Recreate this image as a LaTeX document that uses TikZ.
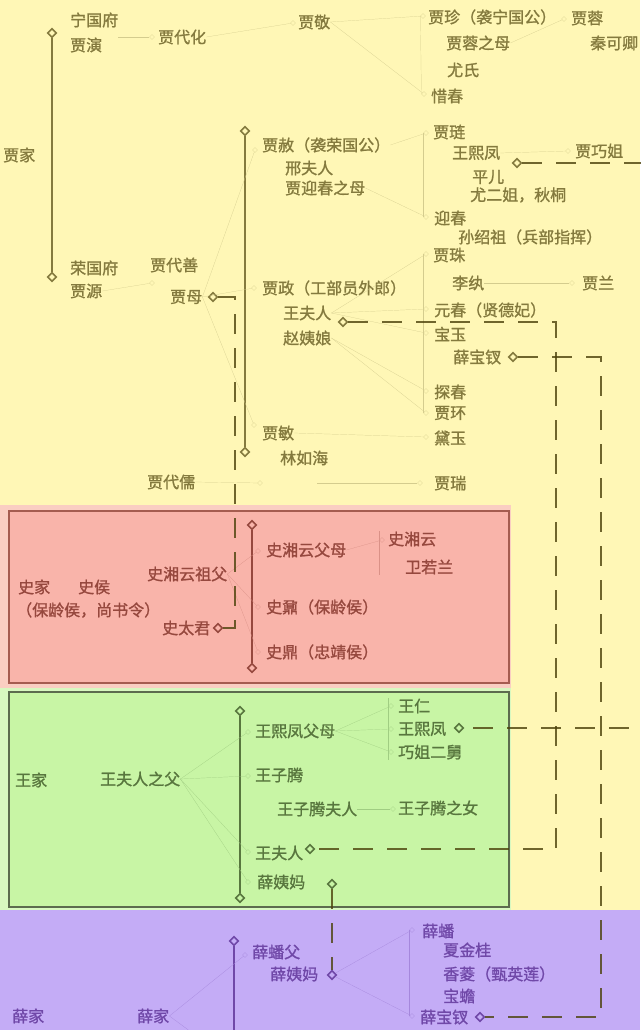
\documentclass[tikz,border=0pt]{standalone}
\usepackage{fontspec}
\newfontfamily\cjk{Noto Sans CJK SC}[FakeBold=1.2]
\usetikzlibrary{shapes.geometric}

\definecolor{jiabg}{RGB}{255,247,182}
\definecolor{jiac}{RGB}{132,122,62}
\definecolor{jiatw}{RGB}{212,204,142}
\definecolor{shiband}{RGB}{250,206,194}
\definecolor{shibg}{RGB}{249,180,170}
\definecolor{shiedge}{RGB}{165,92,80}
\definecolor{shic}{RGB}{150,72,62}
\definecolor{shitw}{RGB}{218,145,135}
\definecolor{wangband}{RGB}{216,248,192}
\definecolor{wangbg}{RGB}{200,245,165}
\definecolor{wangedge}{RGB}{92,108,78}
\definecolor{wangc}{RGB}{88,118,62}
\definecolor{wangtw}{RGB}{160,205,130}
\definecolor{xuebg}{RGB}{196,172,246}
\definecolor{xuec}{RGB}{112,72,168}
\definecolor{xuetw}{RGB}{165,135,220}
\definecolor{wedc}{RGB}{75,65,10}
\colorlet{twc}{jiatw}

\begin{document}
\begin{tikzpicture}[x=1pt,y=-1pt,
  lbl/.style={anchor=west,inner sep=0pt,font=\cjk\fontsize{16}{18}\selectfont},
  bar/.style={line width=2.4pt},
  knot/.style={diamond,draw,line width=1.6pt,minimum size=9pt,inner sep=0pt},
  tip/.style={diamond,draw=twc,very thin,minimum size=5pt,inner sep=0pt},
  twig/.style={draw=twc,very thin},
  wed/.style={draw=wedc,draw opacity=0.8,line width=1.8pt,dash pattern=on 20pt off 14pt}]
\useasboundingbox (0,0) rectangle (640,1030);
% backgrounds
\fill[jiabg] (0,0) rectangle (640,1030);
\fill[shiband] (0,505) rectangle (511,688);
\draw[shiedge,line width=2pt,fill=shibg] (9,511) rectangle (509,683);
\fill[wangband] (0,688) rectangle (511,910);
\draw[wangedge,line width=2pt,fill=wangbg] (9,692) rectangle (509,907);
\fill[xuebg] (0,910) rectangle (640,1030);

% Jia family
\begin{scope}[color=jiac]
\colorlet{twc}{jiatw}
\node[lbl] (jiajia) at (3,155) {贾家};
\node[knot] (jtop) at (52,33) {};
\node[knot] (jbot) at (52,277) {};
\draw[bar] (jtop) -- (jbot);
% Ningguo
\node[lbl] (ngf) at (70,20) {宁国府};
\node[lbl] (jyan) at (70,45) {贾演};
\node[tip] (jdhm) at (152,37) {};
\node[lbl] (jdh) at (158,37) {贾代化};
\node[tip] (jjingm) at (293,23) {};
\node[lbl] (jjing) at (298,22) {贾敬};
\node[tip] (jzhenm) at (423,16) {};
\node[lbl] (jzhen) at (428,17) {贾珍（袭宁国公）};
\node[lbl] (jrm) at (446,43) {贾蓉之母};
\node[lbl] (yshi) at (447,70) {尤氏};
\node[tip] (xchunm) at (424,94) {};
\node[lbl] (xchun) at (431,96) {惜春};
\node[tip] (jrongm) at (564,19) {};
\node[lbl] (jrong) at (571,18) {贾蓉};
\node[lbl] (qkq) at (590,43) {秦可卿};
\draw[twig] (ngf.east |- jdhm) -- (jdhm);
\draw[twig] (jdh.east) -- (jjingm);
\draw[twig] (jjing.east) -- (jzhenm);
\draw[twig] (jjing.east) -- (xchunm);
\draw[twig] (jzhenm.west) -- (xchunm.west);
\draw[twig] (jrm.east) -- (jrongm);
% Rongguo
\node[lbl] (rgf) at (70,268) {荣国府};
\node[lbl] (jyuan) at (70,291) {贾源};
\node[tip] (jdsm) at (152,283) {};
\node[lbl] (jds) at (150,265) {贾代善};
\node[lbl] (jmu) at (170,297) {贾母};
\node[knot] (jmuk) at (213,297) {};
\draw[twig] (jyuan.east) -- (jdsm);
\node[knot] (rtop) at (245,131) {};
\node[knot] (rbot) at (245,452) {};
\draw[bar] (rtop) -- (rbot);
\node[tip] (jshem) at (255,150) {};
\node[lbl] (jshe) at (262,145) {贾赦（袭荣国公）};
\node[lbl] (xfr) at (285,168) {邢夫人};
\node[lbl] (jycm) at (285,188) {贾迎春之母};
\node[tip] (jzhengm) at (254,288) {};
\node[lbl] (jzheng) at (262,288) {贾政（工部员外郎）};
\node[lbl] (wfr) at (283,313) {王夫人};
\node[knot] (wfrk) at (343,322) {};
\node[lbl] (zyn) at (283,338) {赵姨娘};
\node[tip] (jminm) at (254,425) {};
\node[lbl] (jmin) at (262,433) {贾敏};
\node[lbl] (lrh) at (280,458) {林如海};
\draw[twig] (jmu.east) -- (jshem);
\draw[twig] (jmu.east) -- (jzhengm);
\draw[twig] (jmu.east) -- (jminm);
% children of Jia She
\node[tip] (jlianm) at (426,133) {};
\node[lbl] (jlian) at (433,132) {贾琏};
\node[lbl] (wxf) at (452,153) {王熙凤};
\node[knot] (wxfk) at (517,163) {};
\node[tip] (jqjm) at (568,151) {};
\node[lbl] (jqj) at (575,151) {贾巧姐};
\node[lbl] (pinger) at (472,177) {平儿};
\node[lbl] (yej) at (470,195) {尤二姐，秋桐};
\node[tip] (ychunm) at (426,217) {};
\node[lbl] (ychun) at (434,218) {迎春};
\node[lbl] (ssz) at (458,237) {孙绍祖（兵部指挥）};
\draw[twig] (jshe.east) -- (jlianm);
\draw[twig] (jycm.east) -- (ychunm);
\draw[twig] (jlianm.west) -- (ychunm.west);
\draw[twig] (wxf.east) -- (jqjm);
% children of Jia Zheng
\node[tip] (jzhum) at (426,254) {};
\node[lbl] (jzhu) at (433,255) {贾珠};
\node[lbl] (lwan) at (452,283) {李纨};
\node[tip] (jlanm) at (572,283) {};
\node[lbl] (jlan) at (582,283) {贾兰};
\node[tip] (ychm) at (426,309) {};
\node[lbl] (ych) at (434,310) {元春（贤德妃）};
\node[tip] (bym) at (426,333) {};
\node[lbl] (byu) at (434,334) {宝玉};
\node[lbl] (bchai) at (453,357) {薛宝钗};
\node[knot] (bchaik) at (513,357) {};
\node[tip] (tchm) at (426,391) {};
\node[lbl] (tch) at (434,392) {探春};
\node[tip] (jhm) at (426,413) {};
\node[lbl] (jhuan) at (434,413) {贾环};
\draw[twig] (wfr.east) -- (jzhum);
\draw[twig] (wfr.east) -- (ychm);
\draw[twig] (wfr.east) -- (bym);
\draw[twig] (zyn.east) -- (tchm);
\draw[twig] (zyn.east) -- (jhm);
\draw[twig] (jzhum.west) -- (jhm.west);
\draw[twig] (lwan.east) -- (jlanm);
\node[tip] (dyum) at (426,437) {};
\node[lbl] (dyu) at (434,438) {黛玉};
\draw[twig] (jmin.east) -- (dyum);
% Jia Dairu
\node[lbl] (jdr) at (147,482) {贾代儒};
\node[tip] (jdrm) at (260,483) {};
\coordinate (jdrc) at (317,483);
\node[tip] (jruim) at (420,483) {};
\node[lbl] (jrui) at (434,483) {贾瑞};
\draw[twig] (jdr.east) -- (jdrm);
\draw[twig] (jdrc) -- (jruim);
\end{scope}

% Shi family
\begin{scope}[color=shic]
\colorlet{twc}{shitw}
\node[lbl] (shijia) at (18,587) {史家};
\node[lbl] (shihou) at (78,587) {史侯};
\node[lbl] (shihou2) at (16,610) {（保龄侯，尚书令）};
\node[lbl] (sxyzf) at (147,574) {史湘云祖父};
\node[lbl] (stj) at (162,628) {史太君};
\node[knot] (stjk) at (218,628) {};
\node[knot] (stop) at (252,525) {};
\node[knot] (sbot) at (252,668) {};
\draw[bar] (stop) -- (sbot);
\node[tip] (sxyfmm) at (258,551) {};
\node[lbl] (sxyfm) at (266,550) {史湘云父母};
\node[tip] (snaim) at (258,607) {};
\node[lbl] (snai) at (266,607) {史鼐（保龄侯）};
\node[tip] (sdingm) at (258,652) {};
\node[lbl] (sding) at (266,652) {史鼎（忠靖侯）};
\node[tip] (sxym) at (382,540) {};
\node[lbl] (sxy) at (388,539) {史湘云};
\node[lbl] (wrl) at (405,567) {卫若兰};
\draw[twig] (sxyzf.east) -- (sxyfmm);
\draw[twig] (sxyzf.east) -- (snaim);
\draw[twig] (sxyzf.east) -- (sdingm);
\draw[twig] (sxyfm.east) -- (sxym);
\draw[twig] (sxym.west |- sxy.north) -- (sxym.west |- wrl.south);
\end{scope}

% Wang family
\begin{scope}[color=wangc]
\colorlet{twc}{wangtw}
\node[lbl] (wangjia) at (15,780) {王家};
\node[lbl] (wfrzf) at (100,779) {王夫人之父};
\node[knot] (wtop) at (240,711) {};
\node[knot] (wbot) at (240,898) {};
\draw[bar] (wtop) -- (wbot);
\node[tip] (wxffmm) at (248,732) {};
\node[lbl] (wxffm) at (255,731) {王熙凤父母};
\node[tip] (wztm) at (248,776) {};
\node[lbl] (wzt) at (255,775) {王子腾};
\node[lbl] (wztfr) at (277,809) {王子腾夫人};
\node[tip] (wztnm) at (393,809) {};
\node[lbl] (wztn) at (398,808) {王子腾之女};
\node[tip] (wfr2m) at (248,852) {};
\node[lbl] (wfr2) at (255,853) {王夫人};
\node[knot] (wfr2k) at (310,849) {};
\node[tip] (xymm) at (248,882) {};
\node[lbl] (xym) at (257,882) {薛姨妈};
\node[knot] (xymk) at (332,884) {};
\node[tip] (wrenm) at (391,706) {};
\node[lbl] (wren) at (398,706) {王仁};
\node[tip] (wxf2m) at (391,729) {};
\node[lbl] (wxf2) at (398,729) {王熙凤};
\node[knot] (wxf2k) at (459,728) {};
\node[tip] (qjejm) at (391,752) {};
\node[lbl] (qjej) at (398,752) {巧姐二舅};
\draw[twig] (wfrzf.east) -- (wxffmm);
\draw[twig] (wfrzf.east) -- (wztm);
\draw[twig] (wfrzf.east) -- (wfr2m);
\draw[twig] (wfrzf.east) -- (xymm);
\draw[twig] (wxffm.east) -- (wrenm);
\draw[twig] (wxffm.east) -- (wxf2m);
\draw[twig] (wxffm.east) -- (qjejm);
\draw[twig] (wrenm.west |- wren.north) -- (qjejm.west |- qjej.south);
\draw[twig] (wztfr.east) -- (wztnm);
\end{scope}

% Xue family
\begin{scope}[color=xuec]
\colorlet{twc}{xuetw}
\node[lbl] (xuejia) at (12,1016) {薛家};
\node[lbl] (xuejia2) at (137,1016) {薛家};
\node[knot] (xtop) at (234,941) {};
\coordinate (xbot) at (234,1040);
\draw[bar] (xtop) -- (xbot);
\node[tip] (xpfm) at (245,955) {};
\node[lbl] (xpf) at (252,952) {薛蟠父};
\node[lbl] (xym2) at (270,974) {薛姨妈};
\node[knot] (xym2k) at (332,975) {};
\coordinate (xnext) at (202,1040);
\draw[twig] (xuejia2.east) -- (xpfm);
\draw[twig] (xuejia2.east) -- (xnext);
\node[tip] (xpanm) at (412,930) {};
\node[lbl] (xpan) at (422,931) {薛蟠};
\node[lbl] (xjg) at (443,950) {夏金桂};
\node[lbl] (xling) at (443,974) {香菱（甄英莲）};
\node[lbl] (bchan) at (443,996) {宝蟾};
\node[tip] (bchai2m) at (412,1016) {};
\node[lbl] (bchai2) at (420,1017) {薛宝钗};
\node[knot] (bchai2k) at (480,1017) {};
\draw[twig] (xym2k) -- (xpanm);
\draw[twig] (xym2k) -- (bchai2m);
\draw[twig] (xpanm.west) -- (bchai2m.west);
\end{scope}

% marriages across families
\coordinate (jmc1) at (235,297);
\coordinate (jmc2) at (235,628);
\draw[wed] (jmuk) -- (jmc1) -- (jmc2) -- (stjk);
\coordinate (wfrc1) at (556,322);
\coordinate (wfrc2) at (556,849);
\draw[wed] (wfrk) -- (wfrc1) -- (wfrc2) -- (wfr2k);
\coordinate (bchc1) at (601,357);
\coordinate (bchc2) at (601,1017);
\draw[wed] (bchaik) -- (bchc1) -- (bchc2) -- (bchai2k);
\coordinate (wxfc1) at (650,163);
\coordinate (wxfc2) at (650,728);
\draw[wed] (wxfk) -- (wxfc1) -- (wxfc2) -- (wxf2k);
\draw[wed] (xymk) -- (xym2k);
\end{tikzpicture}
\end{document}
